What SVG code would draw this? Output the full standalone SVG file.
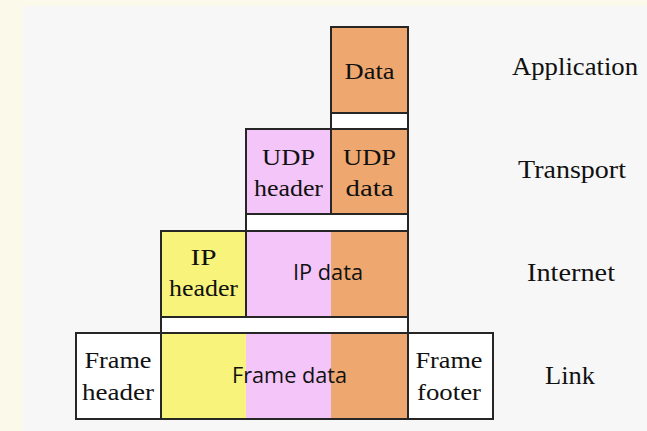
<svg xmlns="http://www.w3.org/2000/svg" width="647" height="431" viewBox="0 0 647 431">
  <style>
    .box { stroke: #262626; stroke-width: 2; }
    .line { stroke: #262626; stroke-width: 2; fill: none; }
    .orange { fill: #eea86f; }
    .pink { fill: #f3c5f8; }
    .yellow { fill: #f8f47b; }
    .white { fill: #ffffff; }
    .serif { font-family: "Liberation Serif", "DejaVu Serif", serif; font-size: 24px; fill: #111111; text-anchor: middle; }
    .layer { font-family: "Liberation Serif", "DejaVu Serif", serif; font-size: 25px; fill: #111111; text-anchor: middle; }
    .sans { font-family: "Open Sans", "Noto Sans", sans-serif; font-size: 22px; fill: #111111; text-anchor: middle; }
  </style>

  <!-- page background -->
  <rect x="0" y="0" width="647" height="431" fill="#fbf9e9"/>
  <rect x="23" y="6" width="624" height="425" fill="#f7f7f7"/>

  <!-- Application layer: data -->
  <g id="app-data">
    <rect class="box orange" x="331" y="27" width="77" height="86"/>
    <text class="serif" x="369.5" y="79" textLength="50" lengthAdjust="spacingAndGlyphs">Data</text>
  </g>

  <!-- Transport layer -->
  <g id="udp-header">
    <rect class="box pink" x="246" y="129" width="85" height="85"/>
    <text class="serif" x="288.5" y="165" textLength="53" lengthAdjust="spacingAndGlyphs">UDP</text>
    <text class="serif" x="288.5" y="196" textLength="69" lengthAdjust="spacingAndGlyphs">header</text>
  </g>
  <g id="udp-data">
    <rect class="box orange" x="331" y="129" width="77" height="85"/>
    <text class="serif" x="369.5" y="165" textLength="53" lengthAdjust="spacingAndGlyphs">UDP</text>
    <text class="serif" x="369.5" y="196" textLength="48" lengthAdjust="spacingAndGlyphs">data</text>
  </g>

  <!-- Internet layer -->
  <g id="ip-header">
    <rect class="box yellow" x="161" y="231" width="85" height="86"/>
    <text class="serif" x="203.5" y="265" textLength="26" lengthAdjust="spacingAndGlyphs">IP</text>
    <text class="serif" x="203.5" y="296" textLength="69" lengthAdjust="spacingAndGlyphs">header</text>
  </g>
  <g id="ip-data">
    <rect class="pink" x="246" y="231" width="85" height="86"/>
    <rect class="orange" x="331" y="231" width="77" height="86"/>
    <rect class="line" x="246" y="231" width="162" height="86"/>
    <text class="sans" x="328" y="280" textLength="70" lengthAdjust="spacingAndGlyphs">IP data</text>
  </g>

  <!-- Link layer -->
  <g id="frame-header">
    <rect class="box white" x="76" y="333" width="85" height="86"/>
    <text class="serif" x="118" y="368" textLength="67" lengthAdjust="spacingAndGlyphs">Frame</text>
    <text class="serif" x="118" y="400" textLength="72" lengthAdjust="spacingAndGlyphs">header</text>
  </g>
  <g id="frame-data">
    <rect class="yellow" x="161" y="333" width="85" height="86"/>
    <rect class="pink" x="246" y="333" width="85" height="86"/>
    <rect class="orange" x="331" y="333" width="77" height="86"/>
    <rect class="line" x="161" y="333" width="247" height="86"/>
    <text class="sans" x="289.5" y="383" textLength="115" lengthAdjust="spacingAndGlyphs">Frame data</text>
  </g>
  <g id="frame-footer">
    <rect class="box white" x="408" y="333" width="85" height="86"/>
    <text class="serif" x="449" y="368" textLength="67" lengthAdjust="spacingAndGlyphs">Frame</text>
    <text class="serif" x="449" y="400" textLength="64" lengthAdjust="spacingAndGlyphs">footer</text>
  </g>

  <!-- encapsulation links between layers -->
  <g id="connectors">
    <rect class="box white" x="331" y="113" width="77" height="16"/>
    <rect class="box white" x="246" y="214" width="162" height="17"/>
    <rect class="box white" x="161" y="317" width="247" height="16"/>
  </g>

  <!-- layer names -->
  <g id="layer-labels">
    <text class="layer" x="575" y="75" textLength="126" lengthAdjust="spacingAndGlyphs">Application</text>
    <text class="layer" x="572" y="178" textLength="108" lengthAdjust="spacingAndGlyphs">Transport</text>
    <text class="layer" x="571" y="281" textLength="88" lengthAdjust="spacingAndGlyphs">Internet</text>
    <text class="layer" x="570" y="384" textLength="50" lengthAdjust="spacingAndGlyphs">Link</text>
  </g>
</svg>
